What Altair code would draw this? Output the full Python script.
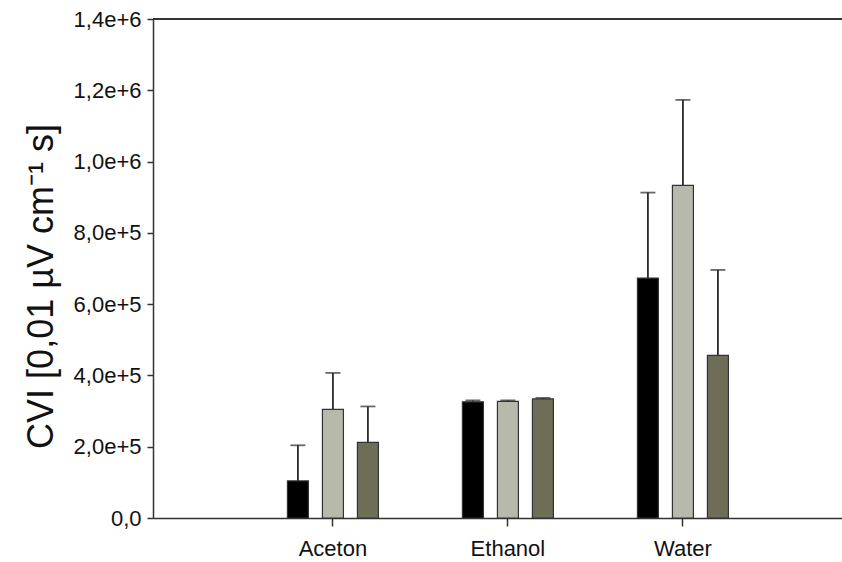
import altair as alt
import pandas as pd

# Solvent groups and the three measurement series
categories = ["Aceton", "Ethanol", "Water"]
series = ["Series 1", "Series 2", "Series 3"]

means_1 = [104000, 326000, 673000]
means_2 = [305000, 327000, 933000]
means_3 = [212000, 334000, 456000]

errors_1 = [100000, 4000, 240000]
errors_2 = [102000, 3000, 240000]
errors_3 = [101000, 3000, 240000]

bar_colors = ["#000000", "#b8b9ad", "#6e6e58"]

rows = []
for s, m_list, e_list in zip(series, [means_1, means_2, means_3], [errors_1, errors_2, errors_3]):
    for cat, m, e in zip(categories, m_list, e_list):
        rows.append({"solvent": cat, "series": s, "mean": m, "upper": m + e})
df = pd.DataFrame(rows)

W, H = 689, 499
FONT = "Liberation Sans"

x_scale = alt.Scale(paddingInner=0.48, paddingOuter=0.7086, align=0.542)
x_axis = alt.Axis(
    title=None, labelAngle=0, labelFontSize=22, labelPadding=12,
    tickSize=8, tickWidth=1.5, tickColor="#333333", bandPosition=0.5,
    domainColor="#333333", domainWidth=1.5, labelColor="#111111",
    labelFont=FONT,
)
x_enc = alt.X("solvent:N", sort=categories, scale=x_scale, axis=x_axis)
xoff_enc = alt.XOffset(
    "series:N", sort=series, scale=alt.Scale(paddingInner=0.4, paddingOuter=0)
)
y_scale = alt.Scale(domain=[0, 1400000], nice=False, zero=True)
y_axis = alt.Axis(
    title="CVI [0,01 µV cm⁻¹ s]",
    values=[0, 200000, 400000, 600000, 800000, 1000000, 1200000, 1400000],
    labelExpr="datum.value == 0 ? '0,0' : replace(format(datum.value, '.1e'), '.', ',')",
    labelFontSize=22, labelFont=FONT, labelColor="#111111", labelPadding=6,
    tickSize=6, tickWidth=1.5, tickColor="#333333",
    domainColor="#333333", domainWidth=1.5, grid=False,
    titleFont=FONT, titleFontSize=36, titleFontWeight="normal",
    titleColor="#111111", titleX=-112, titleY=267, titleAngle=-90,
    titleAlign="center", titleBaseline="middle",
)

base = alt.Chart(df).encode(x=x_enc, xOffset=xoff_enc)

bars = base.mark_bar(stroke="#333333", strokeWidth=1.2).encode(
    y=alt.Y("mean:Q", scale=y_scale, axis=y_axis),
    color=alt.Color("series:N", sort=series,
                    scale=alt.Scale(domain=series, range=bar_colors), legend=None),
)

err_lines = base.mark_rule(color="#2a2a2a", strokeWidth=1.8).encode(
    y=alt.Y("mean:Q", scale=y_scale, axis=y_axis),
    y2="upper:Q",
)

err_caps = base.mark_tick(
    color="#2a2a2a", thickness=1.8, size=15, orient="horizontal"
).encode(
    y=alt.Y("upper:Q", scale=y_scale, axis=y_axis),
)

top_line = alt.Chart(df).mark_rule(color="#333333", strokeWidth=1.5).encode(
    x=alt.value(0), x2=alt.value(W), y=alt.value(0)
)

chart = alt.layer(err_lines, err_caps, bars, top_line).properties(
    width=W,
    height=H,
    autosize=alt.AutoSizeParams(type="none"),
    padding={"left": 153, "top": 19, "right": 0, "bottom": 44},
    background="white",
).configure_view(stroke=None)

chart.save("out.html", embed_options={"renderer": "svg", "actions": False})
